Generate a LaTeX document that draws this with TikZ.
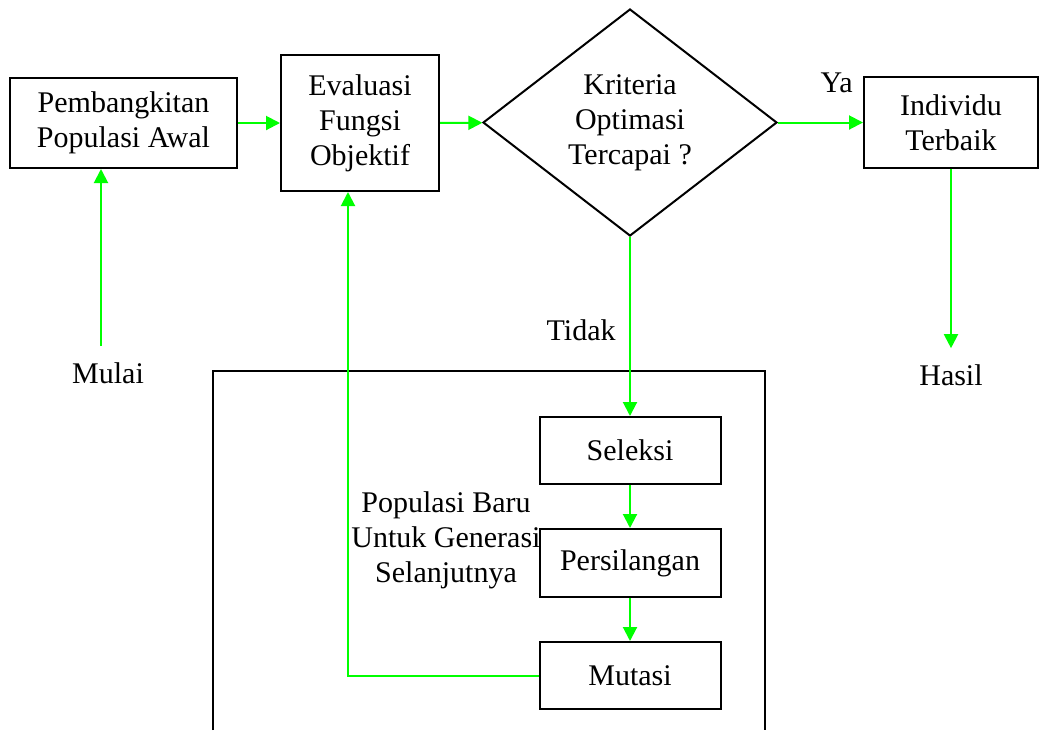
\documentclass[tikz,border=0pt]{standalone}
\usepackage{fontspec}
\setmainfont{Liberation Serif}
\usetikzlibrary{shapes.geometric, arrows.meta}

\begin{document}
\begin{tikzpicture}[x=0.5pt, y=-0.5pt, >={Triangle[length=7pt, width=7pt]}, font=\fontsize{15}{17.5}\selectfont]
	% --- Parametri ---
	\def\colX{630}
	\def\boxW{90.5pt}
	\def\boxH{33.5pt}
	
	% --- Stili ---
	\tikzset{
		proc/.style={draw=black, line width=1pt, align=center, inner sep=0pt},
		decision/.style={diamond, draw=black, line width=1pt, align=center, inner sep=0pt, aspect=1.3},
		term/.style={inner sep=0pt, outer ysep=8pt},
		lbl/.style={inner sep=0pt, anchor=base east},
		flow/.style={->, draw=green, line width=1pt},
		frame/.style={draw=black, line width=1pt}
	}
	
	\useasboundingbox (0,0) rectangle (1039,730);
	
	% --- Blocco GA ---
	\draw[frame] (213,730) |- (765,371) -- (765,730);
	
	% --- Nodi riga superiore ---
	\node[proc, minimum width=113.5pt, minimum height=45pt] (pop) at (123.5,123) {Pembangkitan\\Populasi Awal};
	\node[proc, minimum width=79pt, minimum height=68pt] (eval) at (360,123) {Evaluasi\\Fungsi\\Objektif};
	\node[decision, minimum width=147pt, minimum height=113.5pt] (crit) at (\colX,122.5) {Kriteria\\Optimasi\\Tercapai ?};
	\node[proc, minimum width=87pt, minimum height=45.5pt] (indiv) at (951,122.5) {Individu\\Terbaik};
	
	% --- Operatori genetici ---
	\node[proc, minimum width=\boxW, minimum height=\boxH] (sel) at (\colX,450.5) {Seleksi};
	\node[proc, minimum width=\boxW, minimum height=34pt] (cross) at (\colX,563) {Persilangan};
	\node[proc, minimum width=\boxW, minimum height=\boxH] (mut) at (\colX,675.5) {Mutasi};
	
	% --- Etichette ---
	\node[term, anchor=base] (mulai) at (108,383) {Mulai};
	\node[term, anchor=base] (hasil) at (951,385) {Hasil};
	\node[lbl] (ya) at (853,92) {Ya};
	\node[lbl] (tidak) at (616,340) {Tidak};
	\node[align=center, inner sep=0pt] (newpop) at (446,540) {Populasi Baru\\Untuk Generasi\\Selanjutnya};
	
	% --- Frecce ---
	\draw[flow] ([xshift=-3.5pt]mulai.north) -- ([xshift=-3.5pt]mulai.north |- pop.south);
	\draw[flow] (pop) -- (eval);
	\draw[flow] (eval) -- (crit);
	\draw[flow] (crit.east) -- (indiv.west);
	\draw[flow] (indiv) -- (hasil);
	\draw[flow] (crit.south) -- (sel.north);
	\draw[flow] (sel) -- (cross);
	\draw[flow] (cross) -- (mut);
	\draw[flow] (mut.west) -| ([xshift=-6pt]eval.south);
\end{tikzpicture}
\end{document}
